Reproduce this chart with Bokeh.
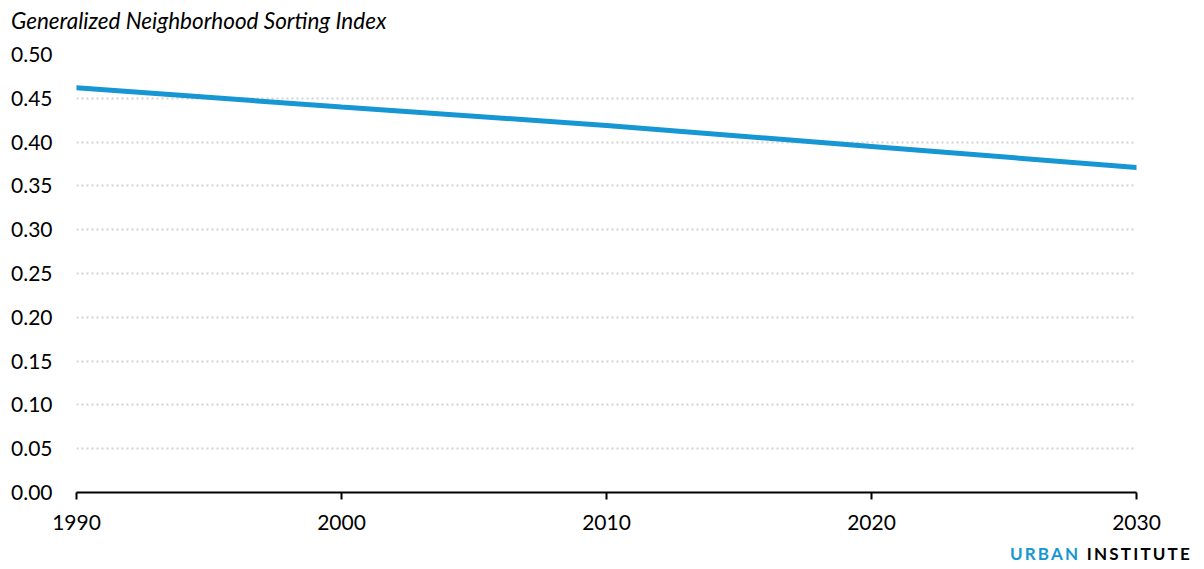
from bokeh.plotting import figure
from bokeh.models import Range1d, FixedTicker, NumeralTickFormatter, Div
from bokeh.layouts import column
from bokeh.embed import file_html
from bokeh.resources import INLINE

years = [1990, 2000, 2010, 2020, 2030]
index_values = [0.462, 0.440, 0.419, 0.395, 0.371]
y_ticks = [0.00, 0.05, 0.10, 0.15, 0.20, 0.25, 0.30, 0.35, 0.40, 0.45, 0.50]
x_ticks = [1990, 2000, 2010, 2020, 2030]
title_text = "Generalized Neighborhood Sorting Index"
brand_1 = "URBAN"
brand_2 = "INSTITUTE"

FONT = "Lato"
BLUE = "#1696d2"

title = Div(
    text=title_text, width=1188, height=30,
    styles={"font-family": FONT, "font-style": "italic", "font-size": "22.5px",
            "color": "black", "line-height": "28px", "padding-top": "2px",
            "padding-left": "6px", "white-space": "nowrap"},
)

p = figure(width=1188, height=496, output_backend="svg", toolbar_location=None,
           x_range=Range1d(1990, 2030), y_range=Range1d(0, 0.5),
           min_border_left=76, min_border_right=52, min_border_top=14, min_border_bottom=44)
p.outline_line_color = None
p.background_fill_color = "white"
p.border_fill_color = "white"

p.line(years, index_values, line_color=BLUE, line_width=5, line_cap="round")

# y axis
p.yaxis.ticker = FixedTicker(ticks=y_ticks)
p.yaxis.formatter = NumeralTickFormatter(format="0.00")
p.yaxis.axis_line_color = None
p.yaxis.major_tick_line_color = None
p.yaxis.minor_tick_line_color = None
p.yaxis.major_label_text_font = FONT
p.yaxis.major_label_text_font_size = "21px"
p.yaxis.major_label_text_color = "black"
p.yaxis.major_label_standoff = 18

# x axis
p.xaxis.ticker = FixedTicker(ticks=x_ticks)
p.xaxis.axis_line_color = "black"
p.xaxis.axis_line_width = 2
p.xaxis.major_tick_line_color = "black"
p.xaxis.major_tick_line_width = 2
p.xaxis.major_tick_out = 7
p.xaxis.major_tick_in = 0
p.xaxis.minor_tick_line_color = None
p.xaxis.major_label_text_font = FONT
p.xaxis.major_label_text_font_size = "21px"
p.xaxis.major_label_text_color = "black"
p.xaxis.major_label_standoff = 15

# grid
p.xgrid.grid_line_color = None
p.ygrid.grid_line_color = "#d2d2d2"
p.ygrid.grid_line_width = 2
p.ygrid.grid_line_dash = "2 3"

brand = Div(
    text=f'<span style="color:{BLUE}">{brand_1}</span> <span style="color:black">{brand_2}</span>',
    width=1188, height=24,
    styles={"font-family": FONT, "font-weight": "bold", "font-size": "17px",
            "letter-spacing": "2.2px", "text-align": "right", "width": "1187px",
            "line-height": "22px", "padding-top": "2px"},
)

layout = column(title, p, brand, spacing=0)
open("out.html", "w").write(file_html(layout, INLINE))
